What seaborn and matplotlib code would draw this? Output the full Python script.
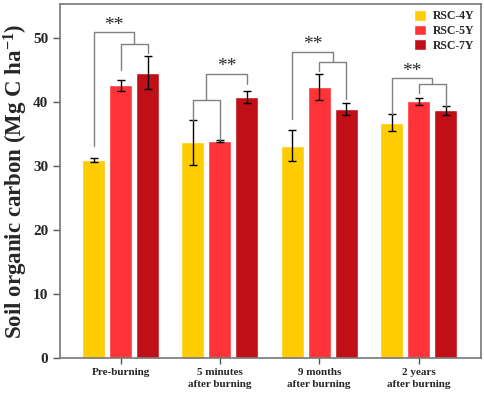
import pandas as pd
import matplotlib.pyplot as plt
import seaborn as sns

# values
periods = ["Pre-burning", "5 minutes\nafter burning", "9 months\nafter burning", "2 years\nafter burning"]
sites = ["RSC-4Y", "RSC-5Y", "RSC-7Y"]
soc_4y = [31.0, 33.7, 33.2, 36.8]
soc_5y = [42.6, 33.9, 42.4, 40.1]
soc_7y = [44.6, 40.8, 38.9, 38.7]
sd_4y = [0.3, 3.5, 2.4, 1.35]
sd_5y = [0.8, 0.2, 2.0, 0.6]
sd_7y = [2.6, 1.0, 0.95, 0.75]

# significance brackets: inner pair, single bar, heights (data units)
inner_pair = [(1, 2), (0, 1), (1, 2), (1, 2)]
single_bar = [0, 2, 0, 0]
inner_top = [49.1, 40.4, 46.2, 42.8]
inner_left_end = [45.0, 37.2, 44.8, 41.4]
inner_right_end = [47.6, 34.1, 40.5, 39.4]
outer_top = [50.9, 44.4, 47.9, 43.7]
outer_end = [33.1, 42.9, 37.3, 38.2]
stars = ["**", "**", "**", "**"]

colors = ["#FFCC00", "#FF3338", "#C00F16"]

df = pd.DataFrame({
    "period": periods * 3,
    "site": [s for s in sites for _ in periods],
    "soc": soc_4y + soc_5y + soc_7y,
    "sd": sd_4y + sd_5y + sd_7y,
})

sns.set_style("white")
plt.rcParams["font.family"] = ["Liberation Serif", "DejaVu Serif"]
plt.rcParams["font.weight"] = "bold"
plt.rcParams["mathtext.fontset"] = "custom"
plt.rcParams["mathtext.rm"] = "Liberation Serif:bold"
plt.rcParams["mathtext.bf"] = "Liberation Serif:bold"
plt.rcParams["mathtext.default"] = "bf"

fig = plt.figure(figsize=(4.84, 3.94), dpi=100)
ax = fig.add_axes([0.124, 0.091, 0.87, 0.9])

sns.barplot(data=df, x="period", y="soc", hue="site", palette=colors,
            width=0.815, gap=0.15, errorbar=None, saturation=1, ax=ax)

# bar centres per site, in period order
centres = []
for cont, sds, vals in zip(ax.containers, [sd_4y, sd_5y, sd_7y], [soc_4y, soc_5y, soc_7y]):
    xs = [p.get_x() + p.get_width() / 2 for p in cont.patches]
    centres.append(xs)
    ax.errorbar(xs, vals, yerr=sds, fmt="none", ecolor="black",
                elinewidth=1, capsize=3, capthick=1)

bcol = "#808080"
for g in range(len(periods)):
    a, b = inner_pair[g]
    xa, xb = centres[a][g], centres[b][g]
    mid = (xa + xb) / 2
    ax.plot([xa, xa, xb, xb], [inner_left_end[g], inner_top[g], inner_top[g], inner_right_end[g]],
            color=bcol, lw=1)
    xs = centres[single_bar[g]][g]
    if xs < mid:
        ox = [xs, xs, mid, mid]
        oy = [outer_end[g], outer_top[g], outer_top[g], inner_top[g]]
    else:
        ox = [mid, mid, xs, xs]
        oy = [inner_top[g], outer_top[g], outer_top[g], outer_end[g]]
    ax.plot(ox, oy, color=bcol, lw=1)
    ax.text((ox[0] + ox[-1]) / 2, outer_top[g] - 0.2, stars[g], ha="center", va="bottom",
            fontsize=14, fontweight="normal", color="#2a2a2a")

ax.set_ylim(0, 55.4)
ax.set_xlim(-0.61, 3.63)
ax.set_yticks([0, 10, 20, 30, 40, 50])
ax.set_xlabel("")
ax.set_ylabel("Soil organic carbon (Mg C ha$^{-1}$)", fontsize=16.5, fontweight="bold", labelpad=2)
ax.tick_params(axis="y", labelsize=11, length=5, width=1, color="#555555", direction="out", left=True)
ax.tick_params(axis="x", labelsize=8, length=4, width=1, color="#555555", direction="out", bottom=True, pad=3)
for lab in ax.get_xticklabels() + ax.get_yticklabels():
    lab.set_fontweight("bold")
for lab in ax.get_xticklabels():
    lab.set_linespacing(1.45)
for sp in ax.spines.values():
    sp.set_color("#777777")
    sp.set_linewidth(1.2)

leg = ax.legend(loc="upper right", frameon=False, prop={"weight": "bold", "size": 8.5},
                handlelength=1.0, handleheight=1.0, handletextpad=0.6, labelspacing=0.2,
                borderaxespad=0.15)

fig.savefig("out.png", dpi=100)
